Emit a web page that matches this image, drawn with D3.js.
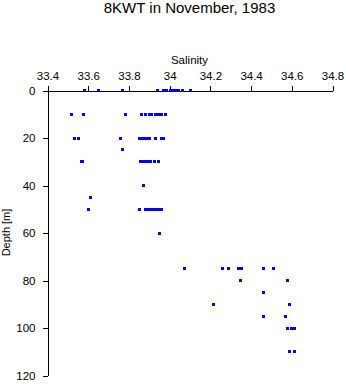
<!DOCTYPE html>
<html>
<head>
<meta charset="utf-8">
<script src="https://cdn.jsdelivr.net/npm/d3@7"></script>
<style>
  html, body { margin: 0; padding: 0; background: #fff; }
  svg { display: block; font-family: "Liberation Sans", Arial, Helvetica, sans-serif; }
</style>
</head>
<body>
<svg id="chart" width="346" height="384"></svg>
<script>
// ---- data ----
const titleText = "8KWT in November, 1983";
const xLabel = "Salinity";
const yLabel = "Depth [m]";
const xTickValues = [33.4, 33.6, 33.8, 34.0, 34.2, 34.4, 34.6, 34.8];
const xTickLabels = ["33.4", "33.6", "33.8", "34", "34.2", "34.4", "34.6", "34.8"];
const yTickValues = [0, 20, 40, 60, 80, 100, 120];
const yTickLabels = ["0", "20", "40", "60", "80", "100", "120"];

const depth = [
  0,0,0,0,0,0,0,0,0,0,0,0,
  10,10,10,10,10,10,10,10,10,10,10,
  20,20,20,20,20,20,20,20,20,20,20,
  25,
  30,30,30,30,30,30,30,30,30,
  40,
  45,
  50,50,50,50,50,50,50,50,50,
  60,
  75,75,75,75,75,75,75,
  80,80,
  85,
  90,90,
  95,95,
  100,100,100,
  110,110
];
const salinity = [
  33.58, 33.65, 33.77, 33.94, 33.97, 33.985, 34.005, 34.02, 34.03, 34.045, 34.065, 34.1,
  33.52, 33.575, 33.785, 33.86, 33.88, 33.90, 33.91, 33.93, 33.945, 33.96, 33.98,
  33.535, 33.55, 33.76, 33.85, 33.862, 33.874, 33.886, 33.9, 33.932, 33.962, 33.972,
  33.77,
  33.565, 33.572, 33.855, 33.867, 33.879, 33.892, 33.905, 33.925, 33.945,
  33.872,
  33.613,
  33.603, 33.852, 33.883, 33.894, 33.913, 33.924, 33.94, 33.95, 33.96,
  33.952,
  34.072, 34.262, 34.29, 34.337, 34.351, 34.46, 34.512,
  34.35, 34.581,
  34.46,
  34.213, 34.591,
  34.463, 34.571,
  34.581, 34.601, 34.612,
  34.591, 34.611
];

// ---- layout ----
const svg = d3.select("#chart");
const mLeft = 47, mRight = 332, mTop = 90, mBottom = 375;

const x = d3.scaleLinear().domain([33.4, 34.8]).range([mLeft, mRight]);
const y = d3.scaleLinear().domain([0, 120]).range([mTop, mBottom]);

// title
svg.append("text")
  .attr("x", (mLeft + mRight) / 2).attr("y", 13)
  .attr("text-anchor", "middle")
  .style("font-size", "15px")
  .text(titleText);

// x axis at top
const xAxis = d3.axisTop(x)
  .tickValues(xTickValues)
  .tickFormat((d, i) => xTickLabels[i])
  .tickSize(5).tickSizeOuter(0).tickPadding(6);
const gx = svg.append("g")
  .attr("transform", `translate(0.5,${mTop + 0.5})`)
  .call(xAxis);
gx.selectAll("text").style("font-size", "11.5px").attr("fill", "#000");
gx.selectAll("line,path").attr("stroke", "#000").attr("shape-rendering", "crispEdges");

// y axis at left
const yAxis = d3.axisLeft(y)
  .tickValues(yTickValues)
  .tickFormat((d, i) => yTickLabels[i])
  .tickSize(5).tickSizeOuter(0).tickPadding(7);
const gy = svg.append("g")
  .attr("transform", `translate(${mLeft + 0.5},0.5)`)
  .call(yAxis);
gy.selectAll("text").style("font-size", "11.5px").attr("fill", "#000");
gy.selectAll("line,path").attr("stroke", "#000").attr("shape-rendering", "crispEdges");

// axis labels
svg.append("text")
  .attr("x", (mLeft + mRight) / 2).attr("y", 64)
  .attr("text-anchor", "middle")
  .style("font-size", "11.5px")
  .text(xLabel);

svg.append("text")
  .attr("transform", `translate(10,${(mTop + mBottom) / 2}) rotate(-90)`)
  .attr("text-anchor", "middle")
  .style("font-size", "11px")
  .text(yLabel);

// points
const pts = depth.map((d, i) => ({ depth: d, sal: salinity[i] }));
svg.append("g")
  .selectAll("rect")
  .data(pts)
  .join("rect")
  .attr("x", d => Math.round(x(d.sal)) - 1)
  .attr("y", d => Math.round(y(d.depth)) - 1)
  .attr("width", 3)
  .attr("height", 3)
  .attr("fill", "#0000ff")
  .attr("shape-rendering", "crispEdges");
</script>
</body>
</html>
